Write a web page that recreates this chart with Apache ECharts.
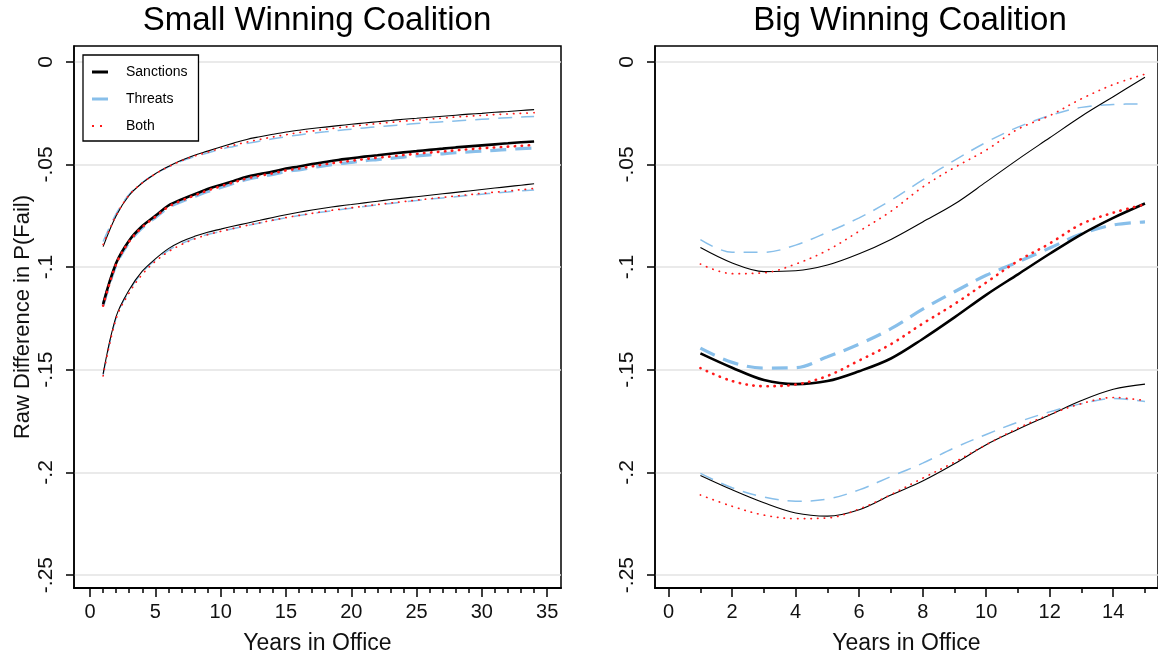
<!DOCTYPE html>
<html>
<head>
<meta charset="utf-8">
<script src="https://cdn.jsdelivr.net/npm/echarts@6/dist/echarts.min.js"></script>
<style>
  html, body { margin: 0; padding: 0; background: #fff; }
  #chart { width: 1158px; height: 660px; }
</style>
</head>
<body>
<div id="chart"></div>
<script>
// Years in office for each panel
const yearsSmall = [1,2,3,4,5,6,7,8,9,10,11,12,13,14,15,16,17,18,19,20,21,22,23,24,25,26,27,28,29,30,31,32,33,34];
const yearsBig = [1,2,3,4,5,6,7,8,9,10,11,12,13,14,15];

// Small winning coalition: estimate and bounds for each policy tool
const smallSanctionsMean  = [-0.118,-0.098,-0.087,-0.080,-0.075,-0.070,-0.067,-0.0645,-0.062,-0.060,-0.058,-0.056,-0.0547,-0.0535,-0.052,-0.051,-0.0498,-0.0488,-0.0478,-0.047,-0.0462,-0.0455,-0.0448,-0.0441,-0.0435,-0.0429,-0.0423,-0.0417,-0.0412,-0.0407,-0.0402,-0.0397,-0.0392,-0.0388];
const smallSanctionsUpper = [-0.090,-0.075,-0.065,-0.059,-0.0545,-0.051,-0.048,-0.0455,-0.0435,-0.0415,-0.0396,-0.0378,-0.0365,-0.0353,-0.0342,-0.0333,-0.0325,-0.0318,-0.0311,-0.0304,-0.0298,-0.0292,-0.0286,-0.0280,-0.0275,-0.0270,-0.0265,-0.0260,-0.0255,-0.0251,-0.0246,-0.0242,-0.0237,-0.0233];
const smallSanctionsLower = [-0.152,-0.124,-0.111,-0.102,-0.096,-0.091,-0.0875,-0.0850,-0.0830,-0.0815,-0.0800,-0.0786,-0.0772,-0.0758,-0.0745,-0.0733,-0.0722,-0.0712,-0.0703,-0.0695,-0.0687,-0.0679,-0.0671,-0.0664,-0.0657,-0.0650,-0.0643,-0.0636,-0.0629,-0.0622,-0.0615,-0.0608,-0.0601,-0.0594];

const smallThreatsMean  = [-0.1185,-0.0988,-0.0878,-0.0808,-0.0758,-0.0709,-0.0680,-0.0656,-0.0632,-0.0612,-0.0592,-0.0573,-0.0560,-0.0548,-0.0534,-0.0526,-0.0515,-0.0506,-0.0497,-0.0490,-0.0482,-0.0476,-0.0470,-0.0464,-0.0458,-0.0453,-0.0448,-0.0443,-0.0439,-0.0435,-0.0431,-0.0427,-0.0423,-0.0420];
const smallThreatsUpper = [-0.0875,-0.0740,-0.0645,-0.0588,-0.0545,-0.0512,-0.0484,-0.0462,-0.0444,-0.0426,-0.0412,-0.0398,-0.0386,-0.0375,-0.0365,-0.0356,-0.0348,-0.0341,-0.0334,-0.0328,-0.0322,-0.0316,-0.0311,-0.0306,-0.0301,-0.0296,-0.0292,-0.0288,-0.0284,-0.0280,-0.0276,-0.0272,-0.0269,-0.0266];
const smallThreatsLower = [-0.1525,-0.1245,-0.1115,-0.1025,-0.0965,-0.0918,-0.0885,-0.0860,-0.0841,-0.0826,-0.0812,-0.0798,-0.0785,-0.0772,-0.0760,-0.0749,-0.0739,-0.0730,-0.0721,-0.0713,-0.0705,-0.0697,-0.0690,-0.0683,-0.0676,-0.0669,-0.0663,-0.0657,-0.0651,-0.0645,-0.0639,-0.0634,-0.0629,-0.0625];

const smallBothMean  = [-0.1188,-0.0985,-0.0875,-0.0805,-0.0755,-0.0706,-0.0676,-0.0651,-0.0627,-0.0607,-0.0587,-0.0568,-0.0555,-0.0543,-0.0529,-0.0520,-0.0509,-0.0499,-0.0490,-0.0482,-0.0474,-0.0467,-0.0461,-0.0454,-0.0448,-0.0442,-0.0437,-0.0431,-0.0426,-0.0421,-0.0417,-0.0413,-0.0409,-0.0405];
const smallBothUpper = [-0.0890,-0.0748,-0.0648,-0.0590,-0.0546,-0.0511,-0.0482,-0.0459,-0.0440,-0.0421,-0.0406,-0.0391,-0.0378,-0.0366,-0.0355,-0.0345,-0.0337,-0.0329,-0.0321,-0.0314,-0.0307,-0.0301,-0.0295,-0.0289,-0.0284,-0.0279,-0.0274,-0.0269,-0.0265,-0.0261,-0.0257,-0.0254,-0.0251,-0.0248];
const smallBothLower = [-0.1530,-0.1250,-0.1125,-0.1035,-0.0972,-0.0925,-0.0890,-0.0863,-0.0842,-0.0826,-0.0811,-0.0797,-0.0784,-0.0771,-0.0759,-0.0748,-0.0738,-0.0728,-0.0719,-0.0711,-0.0703,-0.0695,-0.0688,-0.0681,-0.0674,-0.0667,-0.0660,-0.0654,-0.0647,-0.0641,-0.0635,-0.0629,-0.0623,-0.0617];

// Big winning coalition
const bigSanctionsMean  = [-0.142,-0.149,-0.155,-0.157,-0.1555,-0.1507,-0.1445,-0.135,-0.1245,-0.1135,-0.1035,-0.0935,-0.084,-0.076,-0.069];
const bigSanctionsUpper = [-0.0905,-0.098,-0.1022,-0.1018,-0.099,-0.0935,-0.0865,-0.078,-0.0693,-0.0585,-0.0475,-0.037,-0.0265,-0.017,-0.0075];
const bigSanctionsLower = [-0.2015,-0.2085,-0.2148,-0.2198,-0.2213,-0.2182,-0.2110,-0.2042,-0.1958,-0.1865,-0.1790,-0.1720,-0.1650,-0.1595,-0.1570];

const bigThreatsMean  = [-0.1395,-0.1464,-0.1492,-0.1490,-0.1437,-0.1375,-0.1300,-0.1205,-0.1120,-0.1040,-0.0975,-0.0907,-0.0838,-0.0795,-0.0780];
const bigThreatsUpper = [-0.0866,-0.0928,-0.0928,-0.0893,-0.0830,-0.0760,-0.0675,-0.0575,-0.0480,-0.0392,-0.0318,-0.0262,-0.0222,-0.0208,-0.0205];
const bigThreatsLower = [-0.2005,-0.2075,-0.2120,-0.2140,-0.2130,-0.2085,-0.2020,-0.1955,-0.1880,-0.1815,-0.1755,-0.1705,-0.1665,-0.1640,-0.1655];

const bigBothMean  = [-0.1492,-0.1555,-0.1580,-0.1572,-0.1530,-0.1455,-0.1375,-0.1275,-0.1180,-0.1075,-0.0970,-0.0885,-0.0790,-0.0735,-0.0695];
const bigBothUpper = [-0.0985,-0.1032,-0.1028,-0.0985,-0.0918,-0.0825,-0.0728,-0.0610,-0.0515,-0.0430,-0.0328,-0.0262,-0.0180,-0.0111,-0.0060];
const bigBothLower = [-0.2110,-0.2165,-0.2208,-0.2225,-0.2222,-0.2178,-0.2108,-0.2028,-0.1950,-0.1865,-0.1785,-0.1718,-0.1665,-0.1635,-0.1650];

// Axis ticks and labels
const yTickValues = [0, -0.05, -0.1, -0.15, -0.2, -0.25];
const yTickLabels = ['0', '-.05', '-.1', '-.15', '-.2', '-.25'];
const smallXTicks = [0, 5, 10, 15, 20, 25, 30, 35];
const smallXMinorTicks = [0,1,2,3,4,5,6,7,8,9,10,11,12,13,14,15,16,17,18,19,20,21,22,23,24,25,26,27,28,29,30,31,32,33,34,35];
const bigXTicks = [0, 2, 4, 6, 8, 10, 12, 14];
const bigXMinorTicks = [0,1,2,3,4,5,6,7,8,9,10,11,12,13,14,15];

const FONT = '"Liberation Sans", Arial, sans-serif';
const TEXT = '#111';

const STYLES = {
  Sanctions: {
    mean: { color: '#000000', width: 2.6, type: 'solid', cap: 'butt' },
    band: { color: '#000000', width: 1.1, type: 'solid', cap: 'butt' }
  },
  Threats: {
    mean: { color: '#88bfea', width: 3.2, type: [16, 9], cap: 'butt' },
    band: { color: '#88bfea', width: 1.5, type: [14, 9], cap: 'butt' }
  },
  Both: {
    mean: { color: '#ff1a1a', width: 2.6, type: [0.4, 6.6], cap: 'round' },
    band: { color: '#ff1a1a', width: 1.7, type: [0.4, 6.3], cap: 'round' }
  }
};

function makeSeries(name, kind, xs, ys, xAxisIndex, yAxisIndex, z) {
  const s = STYLES[name][kind];
  return {
    type: 'line',
    name: name,
    xAxisIndex: xAxisIndex,
    yAxisIndex: yAxisIndex,
    data: xs.map((x, i) => [x, ys[i]]),
    symbol: 'none',
    showSymbol: false,
    smooth: 0.35,
    silent: true,
    z: z,
    color: s.color,
    itemStyle: { color: s.color },
    lineStyle: { color: s.color, width: s.width, type: s.type, cap: s.cap }
  };
}

const series = [
  // left panel (axes 0 / 0)
  makeSeries('Sanctions', 'mean', yearsSmall, smallSanctionsMean, 0, 0, 3),
  makeSeries('Threats',   'mean', yearsSmall, smallThreatsMean,   0, 0, 2),
  makeSeries('Both',      'mean', yearsSmall, smallBothMean,      0, 0, 4),
  makeSeries('Sanctions', 'band', yearsSmall, smallSanctionsUpper, 0, 0, 3),
  makeSeries('Sanctions', 'band', yearsSmall, smallSanctionsLower, 0, 0, 3),
  makeSeries('Threats',   'band', yearsSmall, smallThreatsUpper,   0, 0, 2),
  makeSeries('Threats',   'band', yearsSmall, smallThreatsLower,   0, 0, 2),
  makeSeries('Both',      'band', yearsSmall, smallBothUpper,      0, 0, 4),
  makeSeries('Both',      'band', yearsSmall, smallBothLower,      0, 0, 4),
  // right panel (axes 2 / 1)
  makeSeries('Sanctions', 'mean', yearsBig, bigSanctionsMean, 2, 1, 3),
  makeSeries('Threats',   'mean', yearsBig, bigThreatsMean,   2, 1, 2),
  makeSeries('Both',      'mean', yearsBig, bigBothMean,      2, 1, 4),
  makeSeries('Sanctions', 'band', yearsBig, bigSanctionsUpper, 2, 1, 3),
  makeSeries('Sanctions', 'band', yearsBig, bigSanctionsLower, 2, 1, 3),
  makeSeries('Threats',   'band', yearsBig, bigThreatsUpper,   2, 1, 2),
  makeSeries('Threats',   'band', yearsBig, bigThreatsLower,   2, 1, 2),
  makeSeries('Both',      'band', yearsBig, bigBothUpper,      2, 1, 4),
  makeSeries('Both',      'band', yearsBig, bigBothLower,      2, 1, 4)
];

function yLabel(v) {
  const i = yTickValues.findIndex(t => Math.abs(t - v) < 1e-9);
  return i >= 0 ? yTickLabels[i] : '';
}

function yAxisFor(gridIndex, withName) {
  const ax = {
    type: 'value',
    gridIndex: gridIndex,
    min: -0.2563,
    max: 0.0077,
    axisLine: { show: true, onZero: false, lineStyle: { color: '#000', width: 1.5 } },
    axisTick: { show: true, customValues: yTickValues, length: 8, lineStyle: { color: '#000', width: 1.5 } },
    axisLabel: { customValues: yTickValues, formatter: yLabel, rotate: 90, margin: 17,
                 fontSize: 21, color: TEXT, fontFamily: FONT },
    splitLine: { show: true, lineStyle: { color: '#e3e3e3', width: 1.6 } }
  };
  if (withName) {
    ax.name = 'Raw Difference in P(Fail)';
    ax.nameLocation = 'middle';
    ax.nameGap = 40;
    ax.nameTextStyle = { fontSize: 22, color: TEXT, fontFamily: FONT };
  }
  return ax;
}

function xMainAxis(gridIndex, min, max, ticks) {
  return {
    type: 'value',
    gridIndex: gridIndex,
    position: 'bottom',
    min: min,
    max: max,
    axisLine: { show: true, onZero: false, lineStyle: { color: '#000', width: 2 } },
    axisTick: { show: true, customValues: ticks, length: 9, lineStyle: { color: '#000', width: 1.5 } },
    axisLabel: { customValues: ticks, margin: 14, fontSize: 20, color: TEXT, fontFamily: FONT },
    splitLine: { show: false },
    name: 'Years in Office',
    nameLocation: 'middle',
    nameGap: 44,
    nameTextStyle: { fontSize: 23, color: TEXT, fontFamily: FONT }
  };
}

function xMinorAxis(gridIndex, min, max, ticks) {
  return {
    type: 'value',
    gridIndex: gridIndex,
    position: 'bottom',
    min: min,
    max: max,
    axisLine: { show: false, onZero: false },
    axisTick: { show: true, customValues: ticks, length: 5, lineStyle: { color: '#000', width: 1.5 } },
    axisLabel: { show: false },
    splitLine: { show: false }
  };
}

const chart = echarts.init(document.getElementById('chart'), null, { renderer: 'canvas' });

chart.setOption({
  animation: false,
  backgroundColor: '#ffffff',
  title: [
    { text: 'Small Winning Coalition', left: 317, top: 4, textAlign: 'center', textVerticalAlign: 'top', padding: 0,
      textStyle: { fontSize: 33, fontWeight: 'normal', color: '#000', fontFamily: FONT } },
    { text: 'Big Winning Coalition', left: 910, top: 4, textAlign: 'center', textVerticalAlign: 'top', padding: 0,
      textStyle: { fontSize: 33, fontWeight: 'normal', color: '#000', fontFamily: FONT } }
  ],
  legend: {
    orient: 'vertical',
    left: 83,
    top: 55,
    padding: [10, 11, 8, 9],
    itemGap: 13,
    itemWidth: 29,
    itemHeight: 10,
    symbolKeepAspect: true,
    borderColor: '#000',
    borderWidth: 1.3,
    backgroundColor: '#fff',
    selectedMode: false,
    textStyle: { fontSize: 14, color: '#000', fontFamily: FONT },
    itemStyle: { borderWidth: 0 },
    data: [
      { name: 'Sanctions', icon: 'path://M0,0h16v3h-16zM29,1.5h0.001', itemStyle: { color: '#000', borderWidth: 0 } },
      { name: 'Threats',   icon: 'path://M0,0h16v3h-16zM29,1.5h0.001', itemStyle: { color: '#88bfea', borderWidth: 0 } },
      { name: 'Both',      icon: 'path://M0,0h2v2h-2zM8,0h2v2h-2zM29,1h0.001', itemStyle: { color: '#ff1a1a', borderWidth: 0 } }
    ]
  },
  grid: [
    { left: 74, top: 46, width: 487, height: 548, show: true, borderColor: '#000', borderWidth: 1.5, backgroundColor: 'transparent' },
    { left: 655, top: 46, width: 510, height: 548, show: true, borderColor: '#000', borderWidth: 1.5, backgroundColor: 'transparent' }
  ],
  xAxis: [
    xMainAxis(0, -1.23, 36.06, smallXTicks),
    xMinorAxis(0, -1.23, 36.06, smallXMinorTicks),
    xMainAxis(1, -0.43, 15.41, bigXTicks),
    xMinorAxis(1, -0.43, 15.41, bigXMinorTicks)
  ],
  yAxis: [
    yAxisFor(0, true),
    yAxisFor(1, false)
  ],
  series: series
});
</script>
</body>
</html>
